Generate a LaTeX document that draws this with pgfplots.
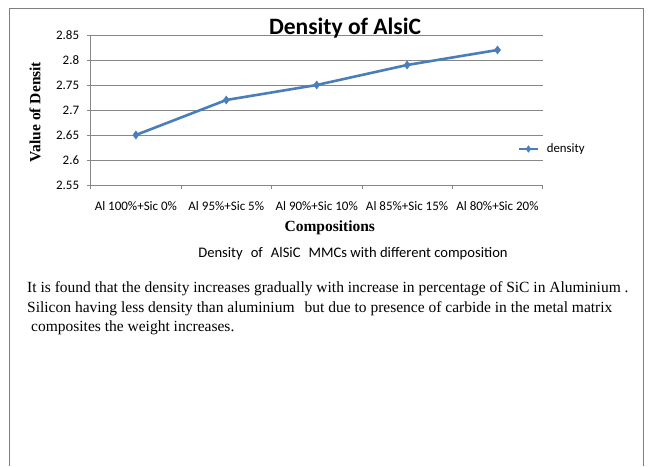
\documentclass[border=0pt]{standalone}
\usepackage{fontspec}
\setmainfont{Liberation Serif}
\newfontfamily\carlito{Carlito}
\usepackage{pgfplots}
\pgfplotsset{compat=1.18}
\definecolor{exblue}{HTML}{4A7EBB}
\definecolor{gridgray}{HTML}{878787}
\definecolor{framegray}{HTML}{7F7F7F}
\begin{document}
\begin{tikzpicture}[x=1pt,y=1pt]
\useasboundingbox (0,0) rectangle (653,466);
\fill[white] (0,0) rectangle (653,466);
\draw[framegray, line width=0.8pt] (9,0) -- (9,458) -- (643,458) -- (643,0);
\begin{axis}[
  at={(90.7pt,281pt)}, anchor=south west,
  scale only axis, width=452pt, height=150pt,
  xmin=-0.5, xmax=4.5, ymin=2.55, ymax=2.85,
  axis x line*=bottom, axis y line*=left,
  axis line style={gridgray, line width=0.8pt, -},
  tick style={gridgray, line width=0.8pt},
  tick align=outside, major tick length=4pt,
  xtick={-0.5,0.5,1.5,2.5,3.5,4.5},
  xticklabels={,,,,,},
  extra x ticks={0,1,2,3,4},
  extra x tick labels={Al 100\%+Sic 0\%, Al 95\%+Sic 5\%, Al 90\%+Sic 10\%, Al 85\%+Sic 15\%, Al 80\%+Sic 20\%},
  extra x tick style={major tick length=0pt, grid=none},
  ytick={2.55,2.6,2.65,2.7,2.75,2.8,2.85},
  yticklabels={2.55,2.6,2.65,2.7,2.75,2.8,2.85},
  ymajorgrids, grid style={gridgray, line width=0.8pt},
  /pgf/number format/assume math mode=true,
  tick label style={font=\carlito\fontsize{13}{15}\selectfont, black},
  xticklabel style={yshift=-13pt},
  yticklabel style={xshift=-4pt},
  every axis title shift=0pt,
  title={\carlito\bfseries\fontsize{23.5}{27}\selectfont Density of AlsiC},
  title style={at={(axis description cs:0.5626,1.046)}, anchor=center},
  xlabel={\bfseries\fontsize{15.5}{18}\selectfont Compositions},
  xlabel style={at={(axis description cs:0.529,-0.285)}, anchor=center},
  ylabel={\bfseries\fontsize{15.5}{18}\selectfont Value of Densit},
  ylabel style={at={(axis description cs:-0.1232,0.487)}, anchor=center},
  legend style={at={(0.945,0.24)}, anchor=west, draw=none, fill=none,
    font=\carlito\fontsize{12.8}{14}\selectfont, inner sep=0pt},
  legend cell align=left,
  legend image code/.code={\draw[mark repeat=2,mark phase=2,#1,line width=1.8pt,mark size=3.2pt] plot coordinates {(0pt,0pt)(9.5pt,0pt)(19pt,0pt)};},
]
\addplot[exblue, line width=2.6pt, mark=diamond*, mark size=4pt,
  mark options={solid, fill=exblue, draw=exblue, line width=0.5pt}]
  coordinates {(0,2.65)(1,2.72)(2,2.75)(3,2.79)(4,2.82)};
\addlegendentry{\hspace{6pt}density}
\end{axis}
\node[anchor=base, font=\carlito\fontsize{14.6}{17}\selectfont] at (353,208) {Density\hspace{0.55em}of\hspace{0.55em}AlSiC\hspace{0.55em}MMCs with different composition};
\begin{scope}[every node/.style={anchor=base west, inner sep=0pt, font=\fontsize{15.5}{18}\selectfont}]
\node at (27,173) {It is found that the density increases gradually with increase in percentage of SiC in Aluminium .};
\node at (27,153) {Silicon having less density than aluminium\hspace{0.4em} but due to presence of carbide in the metal matrix};
\node at (31,134) {composites the weight increases.};
\end{scope}
\end{tikzpicture}
\end{document}
